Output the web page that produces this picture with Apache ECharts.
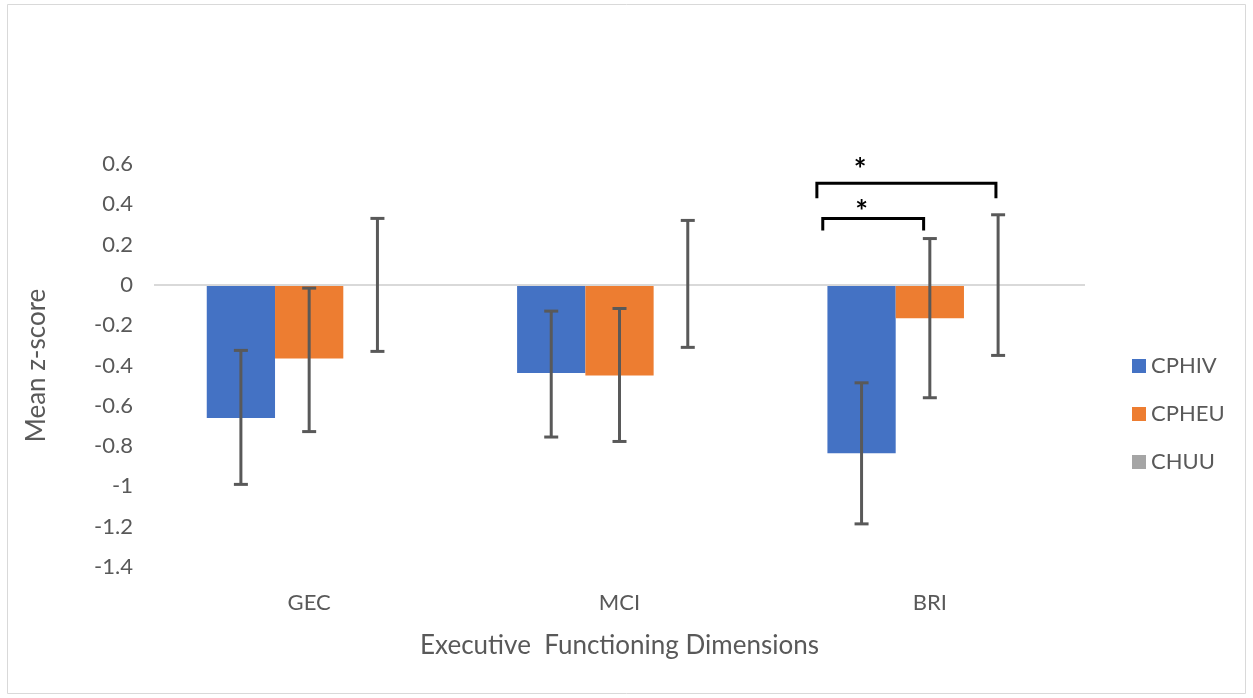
<!DOCTYPE html>
<html><head><meta charset="utf-8">
<script src="https://cdn.jsdelivr.net/npm/echarts@6/dist/echarts.min.js"></script>
<style>html,body{margin:0;padding:0;background:#fff}#c{width:1253px;height:698px}</style>
</head><body><div id="c"></div>
<script>
// ---- data ----
const categories = ['GEC', 'MCI', 'BRI'];
const seriesNames = ['CPHIV', 'CPHEU', 'CHUU'];
const cphiv = [-0.66, -0.437, -0.835];
const cpheu = [-0.365, -0.45, -0.166];
const chuu = [0, 0, 0];
const cphivLow = [-0.99, -0.755, -1.186];
const cphivHigh = [-0.325, -0.13, -0.486];
const cpheuLow = [-0.728, -0.777, -0.56];
const cpheuHigh = [-0.016, -0.117, 0.23];
const chuuLow = [-0.33, -0.31, -0.35];
const chuuHigh = [0.33, 0.32, 0.348];
// significance brackets (category index, y value of bracket, label)
const sigCat = [2, 2];
const sigY = [0.33, 0.505];
const sigLabel = ['*', '*'];
const sigStarY = [0.36, 0.568];

// ---- style ----
const colors = ['#4472C4', '#ED7D31', '#A5A5A5'];
const FONT = 'Lato, "Open Sans", sans-serif';
const CAT_GAP = 0.34;
// bracket geometry in fractions of category band width
const sigFrom = [-0.345, -0.364];
const sigTo = [-0.02, 0.213];
const sigDrop = [0.06, 0.075];
const sigStarX = [-0.22, -0.225];

const means = [cphiv, cpheu, chuu];
const lows = [cphivLow, cpheuLow, chuuLow];
const highs = [cphivHigh, cpheuHigh, chuuHigh];

const errData = [];
for (let s = 0; s < 3; s++) {
  for (let c = 0; c < categories.length; c++) {
    errData.push([c, lows[s][c], highs[s][c], s]);
  }
}
const sigData = sigCat.map((c, i) => [c, sigY[i], i]);

function renderErr(params, api) {
  const c = api.value(0), lo = api.value(1), hi = api.value(2), s = api.value(3);
  const band = api.size([1, 0])[0];
  const bw = band * (1 - CAT_GAP) / 3;
  const x = api.coord([c, 0])[0] + (s - 1) * bw;
  const yl = api.coord([c, lo])[1], yh = api.coord([c, hi])[1];
  const cap = 7;
  const st = { stroke: '#595959', lineWidth: 3 };
  return { type: 'group', children: [
    { type: 'line', shape: { x1: x, y1: yl, x2: x, y2: yh }, style: st },
    { type: 'line', shape: { x1: x - cap, y1: yl, x2: x + cap, y2: yl }, style: st },
    { type: 'line', shape: { x1: x - cap, y1: yh, x2: x + cap, y2: yh }, style: st }
  ]};
}

function renderSig(params, api) {
  const c = api.value(0), y = api.value(1), i = api.value(2);
  const band = api.size([1, 0])[0];
  const cx = api.coord([c, 0])[0];
  const py = api.coord([c, y])[1];
  const pyd = api.coord([c, y - sigDrop[i]])[1];
  const x0 = cx + sigFrom[i] * band, x1 = cx + sigTo[i] * band;
  const sp = api.coord([c, sigStarY[i]]);
  return { type: 'group', children: [
    { type: 'polyline', shape: { points: [[x0, pyd], [x0, py], [x1, py], [x1, pyd]] },
      style: { stroke: '#000', lineWidth: 3, fill: null } },
    { type: 'text', x: cx + sigStarX[i] * band, y: sp[1],
      style: { text: sigLabel[i], fill: '#000', font: 'bold 30px ' + FONT, align: 'center', verticalAlign: 'middle' } }
  ]};
}

const chart = echarts.init(document.getElementById('c'));
const barSeries = seriesNames.map((n, s) => ({
  name: n, type: 'bar', data: means[s], barGap: '0%', barCategoryGap: (CAT_GAP * 100) + '%',
  itemStyle: { color: colors[s] }, z: 2,
  markLine: s === 0 ? { silent: true, symbol: 'none', label: { show: false },
    lineStyle: { color: '#d9d9d9', width: 2, type: 'solid' }, data: [{ yAxis: 0 }] } : undefined
}));

chart.setOption({
  animation: false,
  backgroundColor: '#fff',
  graphic: [{ type: 'rect', shape: { x: 7.5, y: 4.5, width: 1238, height: 689 },
    style: { stroke: '#d9d9d9', lineWidth: 1, fill: null }, silent: true }],
  grid: { left: 154, right: 168, top: 164, bottom: 131, containLabel: false },
  legend: {
    data: seriesNames, orient: 'vertical', left: 1127, top: 350, itemWidth: 14, itemHeight: 14,
    itemGap: 26, icon: 'rect',
    textStyle: { color: '#595959', fontSize: 22, fontFamily: FONT }
  },
  xAxis: {
    type: 'category', data: categories,
    axisLine: { show: false, onZero: false }, axisTick: { show: false },
    axisLabel: { color: '#595959', fontSize: 22, fontFamily: FONT, margin: 25 },
    name: 'Executive  Functioning Dimensions', nameLocation: 'middle', nameGap: 66,
    nameTextStyle: { color: '#595959', fontSize: 26, fontFamily: FONT }
  },
  yAxis: {
    type: 'value', min: -1.4, max: 0.6, interval: 0.2,
    axisLine: { show: false }, axisTick: { show: false }, splitLine: { show: false },
    axisLabel: { color: '#595959', fontSize: 22, fontFamily: FONT, margin: 21,
      formatter: v => String(Number(v.toFixed(1))) },
    name: 'Mean z-score', nameLocation: 'middle', nameGap: 104, nameRotate: 90,
    nameTextStyle: { color: '#595959', fontSize: 26, fontFamily: FONT }
  },
  series: [
    ...barSeries,
    { type: 'custom', renderItem: renderErr, data: errData, encode: { x: 0, y: [1, 2] }, z: 5, silent: true },
    { type: 'custom', renderItem: renderSig, data: sigData, encode: { x: 0, y: 1 }, z: 5, silent: true }
  ]
});
</script></body></html>
